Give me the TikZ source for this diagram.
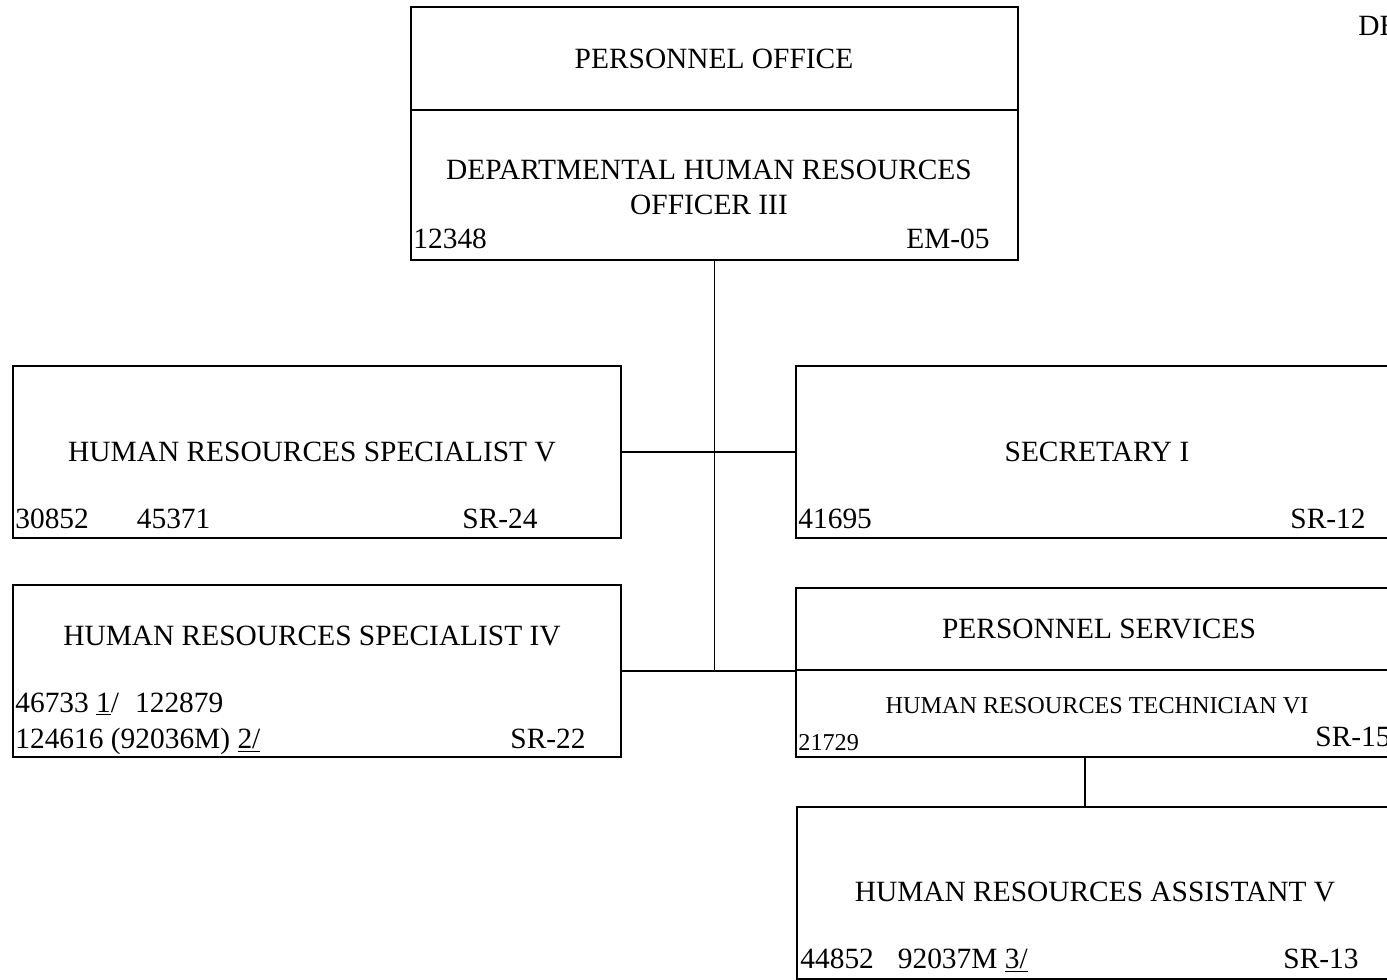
\documentclass[tikz,border=0pt]{standalone}
\usepackage{fontspec}
\setmainfont{Liberation Serif}
\tikzset{
	box/.style={rectangle,draw=black,semithick,inner sep=0pt},
	labl/.style={inner sep=0pt,font=\fontsize{14.7}{17.5}\selectfont},
	labls/.style={inner sep=0pt,font=\fontsize{12.1}{14}\selectfont},
	conn/.style={semithick},
	}

\begin{document}
\begin{tikzpicture}[x=0.5pt,y=-0.5pt]
\useasboundingbox (0,0) rectangle (1387,980);
\clip (0,0) rectangle (1387,980);

% boxes
\node (po) at (714.5,58.5) [box,minimum width=303.5pt,minimum height=51.5pt] {};
\node (dhro) at (714.5,185) [box,minimum width=303.5pt,minimum height=75pt] {};
\node (hrs5) at (317,452) [box,minimum width=304pt,minimum height=86pt] {};
\node (sec) at (1098,452) [box,minimum width=302pt,minimum height=86pt] {};
\node (hrs4) at (317,671) [box,minimum width=304pt,minimum height=86pt] {};
\node (svc) at (1098,629) [box,minimum width=302pt,minimum height=41pt] {};
\node (hrt) at (1098,713.5) [box,minimum width=302pt,minimum height=43.5pt] {};
\node (hra) at (1098.5,893) [box,minimum width=301.5pt,minimum height=86pt] {};

% lines
\draw[conn] (dhro.south) -- (dhro.south |- hrs4.east);
\draw[conn] (hrs5.east) -- (sec.west);
\draw[conn] (hrs4.east) -- (hrs4.east -| svc.west);
\draw[conn] ([xshift=-6.5pt]hrt.south) -- ([xshift=-6.5pt]hrt.south |- hra.north);

% texts
\node (potxt) at (714,59) [labl] {PERSONNEL OFFICE};
\node (dhrotxt) at (709,187) [labl,align=center] {DEPARTMENTAL HUMAN RESOURCES\\OFFICER III};
\node (dhronum) at (413,248) [labl,anchor=base west] {12348};
\node (dhrogr) at (990,248) [labl,anchor=base east] {EM-05};

\node (hrs5txt) at (312,452) [labl] {HUMAN RESOURCES SPECIALIST V};
\node (hrs5num) at (15,528) [labl,anchor=base west] {30852\hspace{24pt}45371};
\node (hrs5gr) at (462,528) [labl,anchor=base west] {SR-24};

\node (sectxt) at (1097,452) [labl] {SECRETARY I};
\node (secnum) at (798,528) [labl,anchor=base west] {41695};
\node (secgr) at (1366,528) [labl,anchor=base east] {SR-12};

\node (hrs4txt) at (312,636) [labl] {HUMAN RESOURCES SPECIALIST IV};
\node (hrs4num) at (15,712) [labl,anchor=base west] {46733 \underline{1}/\hspace{8pt}122879};
\node (hrs4numb) at (15,748) [labl,anchor=base west] {124616 (92036M) \underline{2/}};
\node (hrs4gr) at (510,748) [labl,anchor=base west] {SR-22};

\node (svctxt) at (1099,629) [labl] {PERSONNEL SERVICES};
\node (hrttxt) at (1097,706) [labls] {HUMAN RESOURCES TECHNICIAN VI};
\node (hrtnum) at (798,750) [labls,anchor=base west] {21729};
\node (hrtgr) at (1315,746) [labl,anchor=base west] {SR-15};

\node (hratxt) at (1095,892) [labl] {HUMAN RESOURCES ASSISTANT V};
\node (hranum) at (800,968) [labl,anchor=base west] {44852\hspace{12pt}92037M \underline{3/}};
\node (hragr) at (1283,968) [labl,anchor=base west] {SR-13};

\node (corner) at (1358,35) [labl,anchor=base west] {DE};
\end{tikzpicture}
\end{document}
